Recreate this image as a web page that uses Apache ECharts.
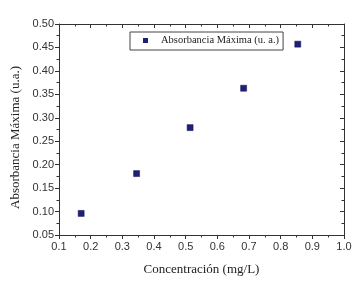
<!DOCTYPE html>
<html><head><meta charset="utf-8">
<script src="https://cdn.jsdelivr.net/npm/echarts@6/dist/echarts.min.js"></script>
<style>html,body{margin:0;padding:0;background:#fff}#c{width:359px;height:285px}</style>
</head><body><div id="c"></div>
<script>
const concentrations = [0.17, 0.345, 0.514, 0.683, 0.854];
const absorbance = [0.096, 0.181, 0.279, 0.363, 0.457];
const seriesName = 'Absorbancia Máxima (u. a.)';
const xTitle = 'Concentración (mg/L)';
const yTitle = 'Absorbancia Máxima (u.a.)';

const axisCol = '#333';
const serif = '"Liberation Serif", "DejaVu Serif", serif';
const sans = '"Liberation Sans", Arial, sans-serif';
const chart = echarts.init(document.getElementById('c'));
const common = {
  axisLine: {show: true, onZero: false, lineStyle: {color: axisCol, width: 1}},
  splitLine: {show: false},
};
chart.setOption({
  animation: false,
  backgroundColor: '#fff',
  grid: {left: 59, right: 15, top: 24, bottom: 50},
  legend: {
    left: 130, top: 32, padding: [3, 4, 4, 13],
    borderColor: '#444', borderWidth: 1,
    itemWidth: 5, itemHeight: 5,
    icon: 'rect',
    itemStyle: {borderWidth: 0},
    textStyle: {fontFamily: serif, fontSize: 10.5, color: '#222', padding: [0, 0, 0, 8]},
    data: [seriesName]
  },
  xAxis: [
    Object.assign({}, common, {
      type: 'value', min: 0.1, max: 1.0, interval: 0.1, position: 'bottom',
      name: xTitle, nameLocation: 'middle', nameGap: 28,
      nameTextStyle: {fontFamily: serif, fontSize: 13, color: '#222'},
      axisTick: {show: true, inside: false, length: 4, lineStyle: {color: axisCol}},
      minorTick: {show: true, splitNumber: 2, length: 2.5, lineStyle: {color: axisCol}},
      axisLabel: {fontFamily: sans, fontSize: 11, color: '#333', margin: 6,
        formatter: v => v.toFixed(1)}
    }),
    Object.assign({}, common, {
      type: 'value', min: 0.1, max: 1.0, interval: 0.1, position: 'top',
      axisTick: {show: true, inside: true, length: 4, lineStyle: {color: axisCol}},
      minorTick: {show: true, splitNumber: 2, length: 2.5, lineStyle: {color: axisCol}},
      axisLabel: {show: false}
    })
  ],
  yAxis: [
    Object.assign({}, common, {
      type: 'value', min: 0.05, max: 0.5, interval: 0.05, position: 'left',
      name: yTitle, nameLocation: 'middle', nameGap: 32,
      nameTextStyle: {fontFamily: serif, fontSize: 13, color: '#222', padding: [0, 16, 0, 0]},
      axisTick: {show: true, inside: false, length: 4, lineStyle: {color: axisCol}},
      minorTick: {show: true, splitNumber: 2, length: 2.5, lineStyle: {color: axisCol}},
      axisLabel: {fontFamily: sans, fontSize: 11, color: '#333', margin: 5,
        formatter: v => v.toFixed(2)}
    }),
    Object.assign({}, common, {
      type: 'value', min: 0.05, max: 0.5, interval: 0.05, position: 'right',
      axisTick: {show: true, inside: true, length: 4, lineStyle: {color: axisCol}},
      minorTick: {show: true, splitNumber: 2, length: 2.5, lineStyle: {color: axisCol}},
      axisLabel: {show: false}
    })
  ],
  series: [{
    name: seriesName, type: 'scatter', symbol: 'rect', symbolSize: 6,
    itemStyle: {color: '#1f1f7a', borderColor: '#101050', borderWidth: 0.5, opacity: 1},
    data: concentrations.map((x, i) => [x, absorbance[i]])
  }]
});
</script></body></html>
